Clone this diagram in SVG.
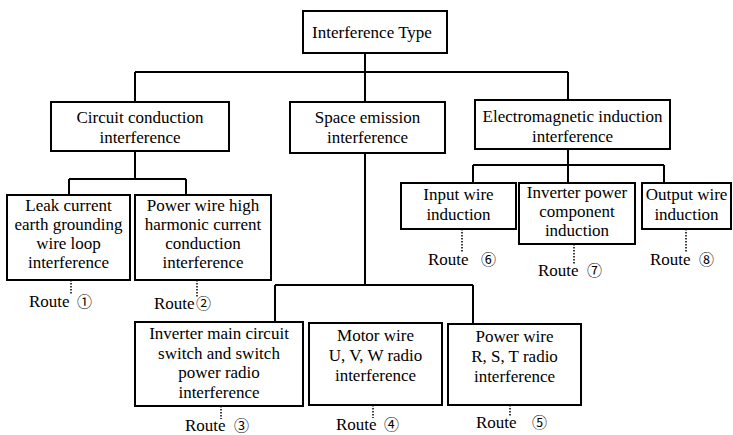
<svg xmlns="http://www.w3.org/2000/svg" width="733" height="435" viewBox="0 0 733 435">
<style>
.box{fill:#fff;stroke:#000;stroke-width:2}
.ln{fill:none;stroke:#000;stroke-width:2}
.dot{fill:none;stroke:#000;stroke-width:1.5;stroke-dasharray:1.5 1.5}
text{font-family:'Liberation Serif','Times New Roman','DejaVu Serif',serif;font-size:17px;fill:#000}
.c{text-anchor:middle}
.n{font-family:'Noto Sans CJK SC','DejaVu Sans',sans-serif;font-size:15px}
</style>
<rect width="733" height="435" fill="#fff"/>
<g id="connectors">
<path class="ln" d="M365 53V102M135 72H568M135 72V102M568 72V100"/>
<path class="ln" d="M135 151V179M69 179H186M69 179V195M186 179V195"/>
<path class="ln" d="M365 153V285M275 285H473M275 285V322M473 285V324"/>
<path class="ln" d="M568 149V183M473 165H664M473 165V183M664 165V183"/>
<path class="dot" d="M71 280V295M197 280V298M221 406V419M373 405V418M510 405V417M462 229V252M574 244V265M686 229V252"/>
</g>
<g id="n-top"><rect class="box" x="303" y="11" width="144" height="42"/><text class="c" x="372" y="38">Interference Type</text></g>
<g id="n-circuit"><rect class="box" x="51" y="102" width="178" height="49"/><text class="c" x="140" y="123">Circuit conduction</text><text class="c" x="140" y="143">interference</text></g>
<g id="n-space"><rect class="box" x="290" y="102" width="155" height="51"/><text class="c" x="367.5" y="123">Space emission</text><text class="c" x="367.5" y="143">interference</text></g>
<g id="n-em"><rect class="box" x="475" y="100" width="195" height="49"/><text class="c" x="572.5" y="122">Electromagnetic induction</text><text class="c" x="572.5" y="142">interference</text></g>
<g id="n-leak"><rect class="box" x="7" y="195" width="123" height="85"/><text class="c" x="68.5" y="211">Leak current</text><text class="c" x="68.5" y="230">earth grounding</text><text class="c" x="68.5" y="249">wire loop</text><text class="c" x="68.5" y="268">interference</text></g>
<g id="n-power"><rect class="box" x="135" y="195" width="136" height="85"/><text class="c" x="203" y="211">Power wire high</text><text class="c" x="203" y="230">harmonic current</text><text class="c" x="203" y="249">conduction</text><text class="c" x="203" y="268">interference</text></g>
<g id="n-input"><rect class="box" x="401" y="183" width="115" height="46"/><text class="c" x="458.5" y="200">Input wire</text><text class="c" x="458.5" y="220">induction</text></g>
<g id="n-invpower"><rect class="box" x="519" y="183" width="116" height="61"/><text class="c" x="577" y="198">Inverter power</text><text class="c" x="577" y="217">component</text><text class="c" x="577" y="236">induction</text></g>
<g id="n-output"><rect class="box" x="642" y="183" width="89" height="46"/><text class="c" x="686.5" y="200">Output wire</text><text class="c" x="686.5" y="220">induction</text></g>
<g id="n-invmain"><rect class="box" x="135" y="322" width="168" height="84"/><text class="c" x="219" y="339">Inverter main circuit</text><text class="c" x="219" y="358.5">switch and switch</text><text class="c" x="219" y="378">power radio</text><text class="c" x="219" y="397.5">interference</text></g>
<g id="n-motor"><rect class="box" x="309" y="323" width="133" height="82"/><text class="c" x="375.5" y="341">Motor wire</text><text class="c" x="375.5" y="361">U, V, W radio</text><text class="c" x="375.5" y="381">interference</text></g>
<g id="n-rst"><rect class="box" x="448" y="324" width="133" height="81"/><text class="c" x="514.5" y="342">Power wire</text><text class="c" x="514.5" y="362">R, S, T radio</text><text class="c" x="514.5" y="382">interference</text></g>
<g id="routes">
<text x="29" y="307">Route<tspan class="n" x="77">①</tspan></text>
<text x="154" y="309">Route<tspan class="n" x="196">②</tspan></text>
<text x="185" y="431">Route<tspan class="n" x="234">③</tspan></text>
<text x="336" y="430">Route<tspan class="n" x="384">④</tspan></text>
<text x="476" y="428">Route<tspan class="n" x="532">⑤</tspan></text>
<text x="428" y="265">Route<tspan class="n" x="481">⑥</tspan></text>
<text x="538" y="276">Route<tspan class="n" x="587">⑦</tspan></text>
<text x="650" y="265">Route<tspan class="n" x="699">⑧</tspan></text>
</g>
</svg>
